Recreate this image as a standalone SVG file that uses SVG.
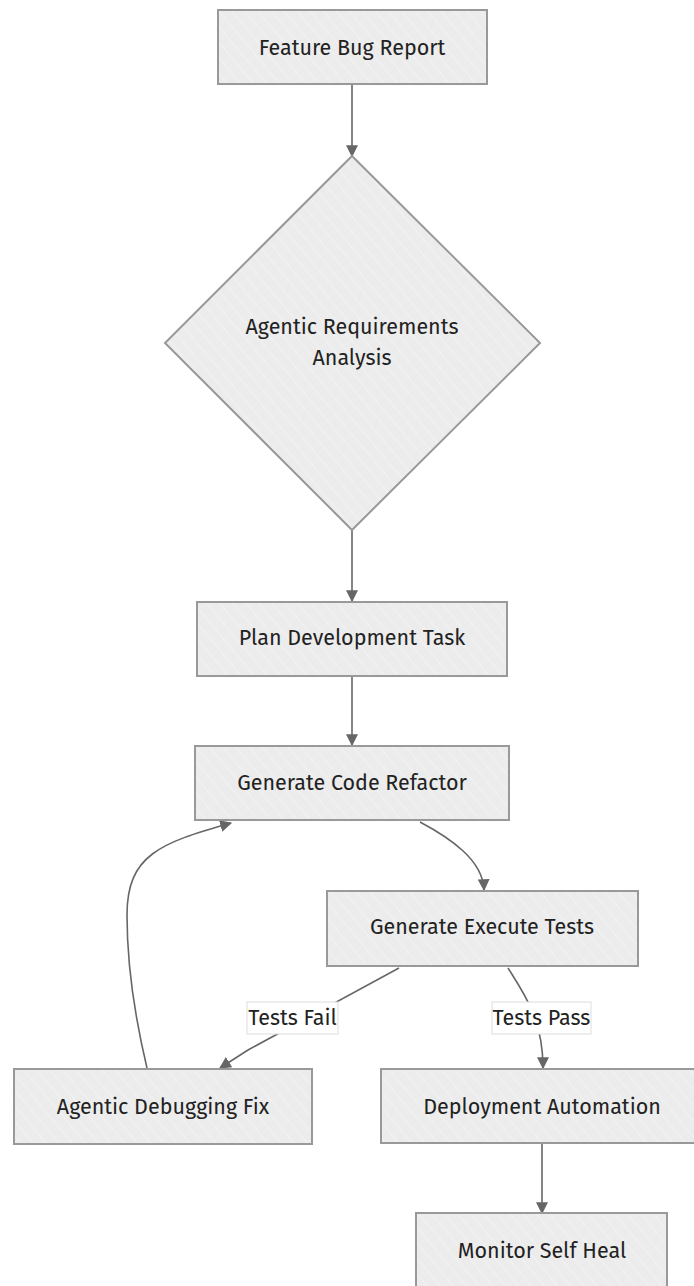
<svg xmlns="http://www.w3.org/2000/svg" width="694" height="1286" viewBox="0 0 694 1286">
<defs>
<pattern id="hatch" width="10" height="10" patternUnits="userSpaceOnUse" patternTransform="rotate(-40)">
<rect width="10" height="10" fill="#ececec"/>
<line x1="0" y1="0" x2="0" y2="10" stroke="#f8f8f8" stroke-width="1"/>
</pattern>
<marker id="arrB" viewBox="0 0 10 10" refX="9" refY="5" markerWidth="12" markerHeight="12" orient="auto" markerUnits="userSpaceOnUse">
<path d="M0,0 L10,5 L0,10 z" fill="#666"/>
</marker>
</defs>
<style>
.node{fill:url(#hatch);stroke:#999;stroke-width:2}
.t{font-family:"Fira Sans","Noto Sans","Open Sans",sans-serif;font-size:21.5px;fill:#222;text-anchor:middle;dominant-baseline:central}
.e{fill:none;stroke:#666;stroke-width:1.6}
.lb{fill:#fff;stroke:#ddd;stroke-width:1}
.lt{font-family:"Fira Sans","Noto Sans","Open Sans",sans-serif;font-size:21.5px;fill:#222;text-anchor:middle;dominant-baseline:central}
</style>
<rect width="694" height="1286" fill="#fff"/>
<g id="connectors">
<path class="e" d="M352,84 L352,156" marker-end="url(#arrB)"/>
<path class="e" d="M352,530 L352,601" marker-end="url(#arrB)"/>
<path class="e" d="M352,676 L352,745" marker-end="url(#arrB)"/>
<path class="e" d="M420,822 C450,838 483,860 484,890" marker-end="url(#arrB)"/>
<path class="e" d="M399,968 L248,1050 L220,1068" marker-end="url(#arrB)"/>
<path class="e" d="M508,968 C525,995 543,1020 543,1068" marker-end="url(#arrB)"/>
<path class="e" d="M542,1143 L542,1213" marker-end="url(#arrB)"/>
<path class="e" d="M147,1068 C132,1005 127,960 127,915 C127,855 160,843 231,823" marker-end="url(#arrB)"/>
<g id="label-fail"><rect class="lb" x="247" y="1002" width="91" height="32"/><text class="lt" x="292.5" y="1018">Tests Fail</text></g>
<g id="label-pass"><rect class="lb" x="492" y="1002" width="99" height="32"/><text class="lt" x="541.5" y="1018">Tests Pass</text></g>
</g>
<g id="n-feature"><rect class="node" x="218" y="10" width="269" height="74"/><text class="t" x="352" y="48">Feature Bug Report</text></g>
<g id="n-analysis"><polygon class="node" points="352,156 540,343 352,530 165,343"/><text class="t" x="352" y="327">Agentic Requirements</text><text class="t" x="352" y="358">Analysis</text></g>
<g id="n-plan"><rect class="node" x="197" y="602" width="310" height="74"/><text class="t" x="352" y="638">Plan Development Task</text></g>
<g id="n-generate"><rect class="node" x="195" y="746" width="314" height="74"/><text class="t" x="352" y="783">Generate Code Refactor</text></g>
<g id="n-tests"><rect class="node" x="327" y="891" width="311" height="75"/><text class="t" x="482" y="927">Generate Execute Tests</text></g>
<g id="n-debug"><rect class="node" x="14" y="1069" width="298" height="75"/><text class="t" x="163" y="1107">Agentic Debugging Fix</text></g>
<g id="n-deploy"><rect class="node" x="381" y="1069" width="320" height="74"/><text class="t" x="542" y="1107">Deployment Automation</text></g>
<g id="n-monitor"><rect class="node" x="416" y="1213" width="251" height="80"/><text class="t" x="542" y="1251">Monitor Self Heal</text></g>
</svg>
